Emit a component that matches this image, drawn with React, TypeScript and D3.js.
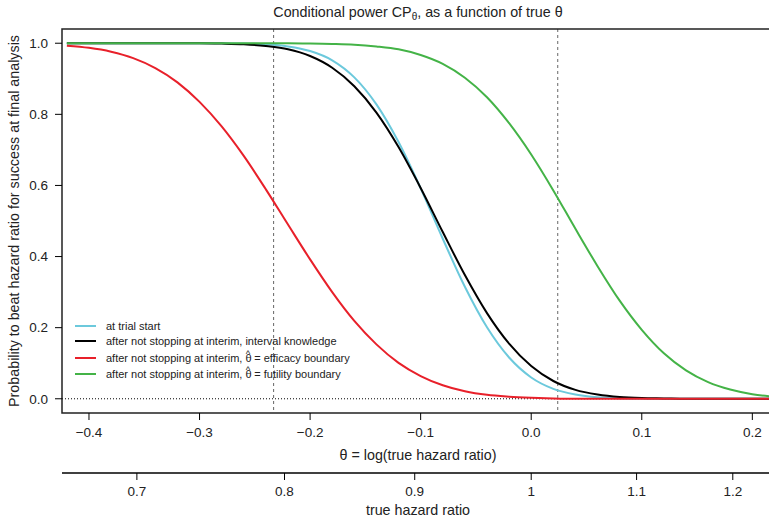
import React from "react";
import * as d3 from "d3";

// theta grid (log hazard ratio) and conditional power
const thetaGrid = [
  -0.42, -0.4, -0.38, -0.36, -0.34, -0.32, -0.3, -0.28, -0.26, -0.24, -0.22,
  -0.2, -0.18, -0.16, -0.14, -0.12, -0.1, -0.08, -0.06, -0.04, -0.02, 0.0,
  0.02, 0.04, 0.06, 0.08, 0.1, 0.12, 0.14, 0.16, 0.18, 0.2, 0.22,
];

const cpTrialStart = [
  1.0, 1.0, 1.0, 1.0, 1.0, 1.0, 1.0, 1.0, 0.999, 0.997, 0.991,
  0.978, 0.952, 0.904, 0.828, 0.722, 0.592, 0.45, 0.315, 0.201, 0.116, 0.06,
  0.028, 0.012, 0.004, 0.001, 0.0, 0.0, 0.0, 0.0, 0.0, 0.0, 0.0,
];

const cpInterval = [
  1.0, 1.0, 1.0, 1.0, 1.0, 1.0, 1.0, 0.999, 0.997, 0.992, 0.983,
  0.964, 0.931, 0.879, 0.805, 0.708, 0.593, 0.469, 0.348, 0.241, 0.155, 0.092,
  0.05, 0.025, 0.012, 0.005, 0.002, 0.001, 0.0, 0.0, 0.0, 0.0, 0.0,
];

const cpEfficacy = [
  0.993, 0.987, 0.976, 0.958, 0.93, 0.89, 0.835, 0.766, 0.683, 0.589, 0.49,
  0.392, 0.3, 0.219, 0.153, 0.101, 0.064, 0.038, 0.021, 0.011, 0.006, 0.003,
  0.001, 0.0, 0.0, 0.0, 0.0, 0.0, 0.0, 0.0, 0.0, 0.0, 0.0,
];

const cpFutility = [
  1.0, 1.0, 1.0, 1.0, 1.0, 1.0, 1.0, 1.0, 1.0, 1.0, 1.0,
  0.999, 0.998, 0.996, 0.991, 0.983, 0.967, 0.942, 0.903, 0.848, 0.775, 0.687,
  0.586, 0.478, 0.373, 0.276, 0.194, 0.128, 0.08, 0.047, 0.026, 0.013, 0.006,
];

const seriesNames = [
  "at trial start",
  "after not stopping at interim, interval knowledge",
  "efficacy",
  "futility",
];
const seriesColors = ["#6cc9dc", "#000000", "#e8202a", "#44b347"];
const seriesValues = [cpTrialStart, cpInterval, cpEfficacy, cpFutility];

// interim boundaries for theta-hat (vertical dashed lines)
const boundaries = [-0.233, 0.024];

const thetaTicks = [-0.4, -0.3, -0.2, -0.1, 0.0, 0.1, 0.2];
const hrTicks = [0.7, 0.8, 0.9, 1, 1.1, 1.2];
const yTicks = [0, 0.2, 0.4, 0.6, 0.8, 1.0];

const FONT = "'Liberation Sans', Arial, sans-serif";
const TXT = "#222";
const LAB = 14.3;
const TICK = 13.5;

const W = 769;
const H = 520;
const left = 62;
const right = 774;
const top = 29;
const bottom = 413;

export default function App() {
  const x = d3.scaleLinear().domain([-0.4244, 0.2196]).range([left, right]);
  const y = d3.scaleLinear().domain([-0.04, 1.04]).range([bottom, top]);
  const fmt = d3.format(".1f");

  const line = d3
    .line<number>()
    .x((_, i) => x(thetaGrid[i]))
    .y((d) => y(d))
    .curve(d3.curveMonotoneX);

  const legendY = [326, 341, 358, 374];

  const hatText = (label: string, yy: number) => (
    <text x={106} y={yy + 4} fontSize={11} fill={TXT} fontFamily={FONT}>
      <tspan>after not stopping at interim, </tspan>
      <tspan>θ</tspan>
      <tspan dx={-5.9} dy={-5.5} fontSize={9.5}>^</tspan>
      <tspan dx={1.1} dy={5.5}>{" = " + label + " boundary"}</tspan>
    </text>
  );

  return (
    <svg
      width={W}
      height={H}
      style={{ position: "absolute", left: 0, top: 0, background: "#fff" }}
    >
      <defs>
        <clipPath id="plotclip">
          <rect x={left} y={top} width={right - left} height={bottom - top} />
        </clipPath>
      </defs>

      {/* title */}
      <text
        x={(left + right) / 2}
        y={17}
        textAnchor="middle"
        fontSize={LAB}
        fill={TXT}
        fontFamily={FONT}
      >
        Conditional power CP
        <tspan fontSize={10} dy={3}>θ</tspan>
        <tspan dy={-3}>, as a function of true θ</tspan>
      </text>

      {/* zero line */}
      <line
        x1={left}
        x2={right}
        y1={y(0)}
        y2={y(0)}
        stroke="#000"
        strokeDasharray="1,2"
        strokeWidth={1}
      />

      {/* boundaries */}
      {boundaries.map((b, i) => (
        <line
          key={i}
          x1={x(b)}
          x2={x(b)}
          y1={top}
          y2={bottom}
          stroke="#666"
          strokeDasharray="3,3"
          strokeWidth={1}
        />
      ))}

      {/* curves */}
      <g clipPath="url(#plotclip)">
        {seriesValues.map((vals, i) => (
          <path
            key={i}
            d={line(vals) || ""}
            fill="none"
            stroke={seriesColors[i]}
            strokeWidth={2}
          />
        ))}
      </g>

      {/* box */}
      <path
        d={`M${right},${top}H${left}V${bottom}H${right}`}
        fill="none"
        stroke="#222"
        strokeWidth={1.5}
      />

      {/* y axis */}
      {yTicks.map((t) => (
        <g key={t}>
          <line x1={left - 7} x2={left} y1={y(t)} y2={y(t)} stroke="#000" />
          <text
            x={48}
            y={y(t) + 4.8}
            textAnchor="end"
            fontSize={TICK}
            fill={TXT}
            fontFamily={FONT}
          >
            {fmt(t)}
          </text>
        </g>
      ))}
      <text
        transform={`translate(19,${(top + bottom) / 2}) rotate(-90)`}
        textAnchor="middle"
        fontSize={LAB}
        fill={TXT}
        fontFamily={FONT}
      >
        Probability to beat hazard ratio for success at final analysis
      </text>

      {/* theta axis */}
      {thetaTicks.map((t) => (
        <g key={t}>
          <line x1={x(t)} x2={x(t)} y1={bottom} y2={bottom + 7} stroke="#000" />
          <text
            x={x(t)}
            y={437}
            textAnchor="middle"
            fontSize={TICK}
            fill={TXT}
            fontFamily={FONT}
          >
            {fmt(t)}
          </text>
        </g>
      ))}
      <text
        x={(left + right) / 2}
        y={460}
        textAnchor="middle"
        fontSize={LAB}
        fill={TXT}
        fontFamily={FONT}
      >
        θ = log(true hazard ratio)
      </text>

      {/* hazard ratio axis */}
      <line x1={left} x2={right} y1={473} y2={473} stroke="#000" strokeWidth={1.5} />
      {hrTicks.map((t) => (
        <g key={t}>
          <line
            x1={x(Math.log(t))}
            x2={x(Math.log(t))}
            y1={473}
            y2={480}
            stroke="#000"
          />
          <text
            x={x(Math.log(t))}
            y={496}
            textAnchor="middle"
            fontSize={TICK}
            fill={TXT}
            fontFamily={FONT}
          >
            {String(t)}
          </text>
        </g>
      ))}
      <text
        x={(left + right) / 2}
        y={515}
        textAnchor="middle"
        fontSize={LAB}
        fill={TXT}
        fontFamily={FONT}
      >
        true hazard ratio
      </text>

      {/* legend */}
      {seriesColors.map((c, i) => (
        <line
          key={i}
          x1={75}
          x2={96}
          y1={legendY[i]}
          y2={legendY[i]}
          stroke={c}
          strokeWidth={2}
        />
      ))}
      {seriesNames.slice(0, 2).map((s, i) => (
        <text
          key={i}
          x={106}
          y={legendY[i] + 4}
          fontSize={11}
          fill={TXT}
          fontFamily={FONT}
        >
          {s}
        </text>
      ))}
      {hatText(seriesNames[2], legendY[2])}
      {hatText(seriesNames[3], legendY[3])}
    </svg>
  );
}
